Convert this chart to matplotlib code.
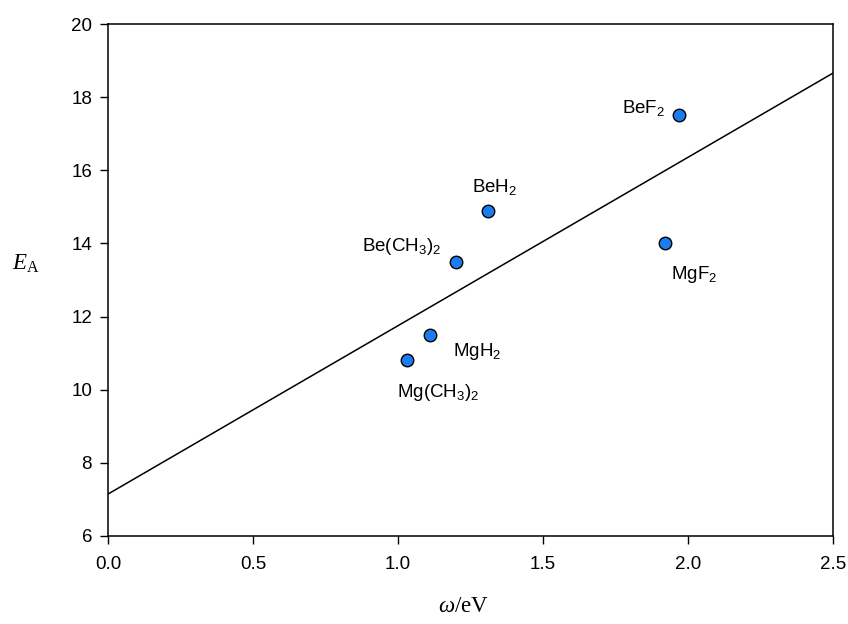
import numpy as np
import matplotlib
matplotlib.use("Agg")
import matplotlib.pyplot as plt
from matplotlib.ticker import FormatStrFormatter

plt.rcParams['font.family'] = 'Liberation Sans'
plt.rcParams['mathtext.fontset'] = 'custom'
plt.rcParams['mathtext.rm'] = 'Liberation Sans'
plt.rcParams['mathtext.it'] = 'Liberation Serif:italic'
plt.rcParams['mathtext.sf'] = 'Liberation Serif'

# compounds, frequency omega (eV) and activation energy E_A
compounds = ['BeF_2', 'MgF_2', 'BeH_2', 'Be(CH_3)_2', 'MgH_2', 'Mg(CH_3)_2']
omega = [1.97, 1.92, 1.31, 1.20, 1.11, 1.03]
energy = [17.5, 14.0, 14.9, 13.5, 11.5, 10.8]

# label placement relative to the marker (pixels) and horizontal alignment
offsets = [(-14, 2), (6, -36), (7, 19), (-15, 11), (23, -21), (31, -37)]
aligns = ['right', 'left', 'center', 'right', 'left', 'center']

fig = plt.figure(figsize=(8.48, 6.24), dpi=100)
ax = fig.add_axes([108 / 848, 88 / 624, 725 / 848, 512 / 624])

# least squares line through the points
slope, intercept = np.polyfit(omega, energy, 1)
xs = np.array([0.0, 2.5])
ax.plot(xs, slope * xs + intercept, color='black', lw=1.1, zorder=2)

ax.plot(omega, energy, 'o', ms=9, mfc='#1a7cf0', mec='black', mew=1.0,
        zorder=3, clip_on=False)

for name, x, y, off, ha in zip(compounds, omega, energy, offsets, aligns):
    ax.annotate(r'$\mathregular{' + name + '}$', (x, y), xytext=off,
                textcoords='offset pixels', ha=ha, va='baseline',
                fontsize=13.5)

ax.set_xlim(0, 2.5)
ax.set_ylim(6, 20)
ax.set_xticks(np.arange(0, 2.51, 0.5))
ax.set_yticks(np.arange(6, 20.1, 2))
ax.xaxis.set_major_formatter(FormatStrFormatter('%.1f'))
ax.tick_params(direction='out', length=5.5, width=1, labelsize=13.5,
               top=False, right=False)
ax.tick_params(axis='x', pad=9)
ax.tick_params(axis='y', pad=6)
for s in ax.spines.values():
    s.set_linewidth(1.1)

fig.text(463 / 848, 1 - 606 / 624, r'$\omega\mathsf{/eV}$', fontsize=16.5,
         ha='center', va='center')
fig.text(26 / 848, 1 - 263 / 624, r'$E_{\mathsf{A}}$', fontsize=16.5,
         ha='center', va='center')

fig.savefig('out.png', dpi=100)
